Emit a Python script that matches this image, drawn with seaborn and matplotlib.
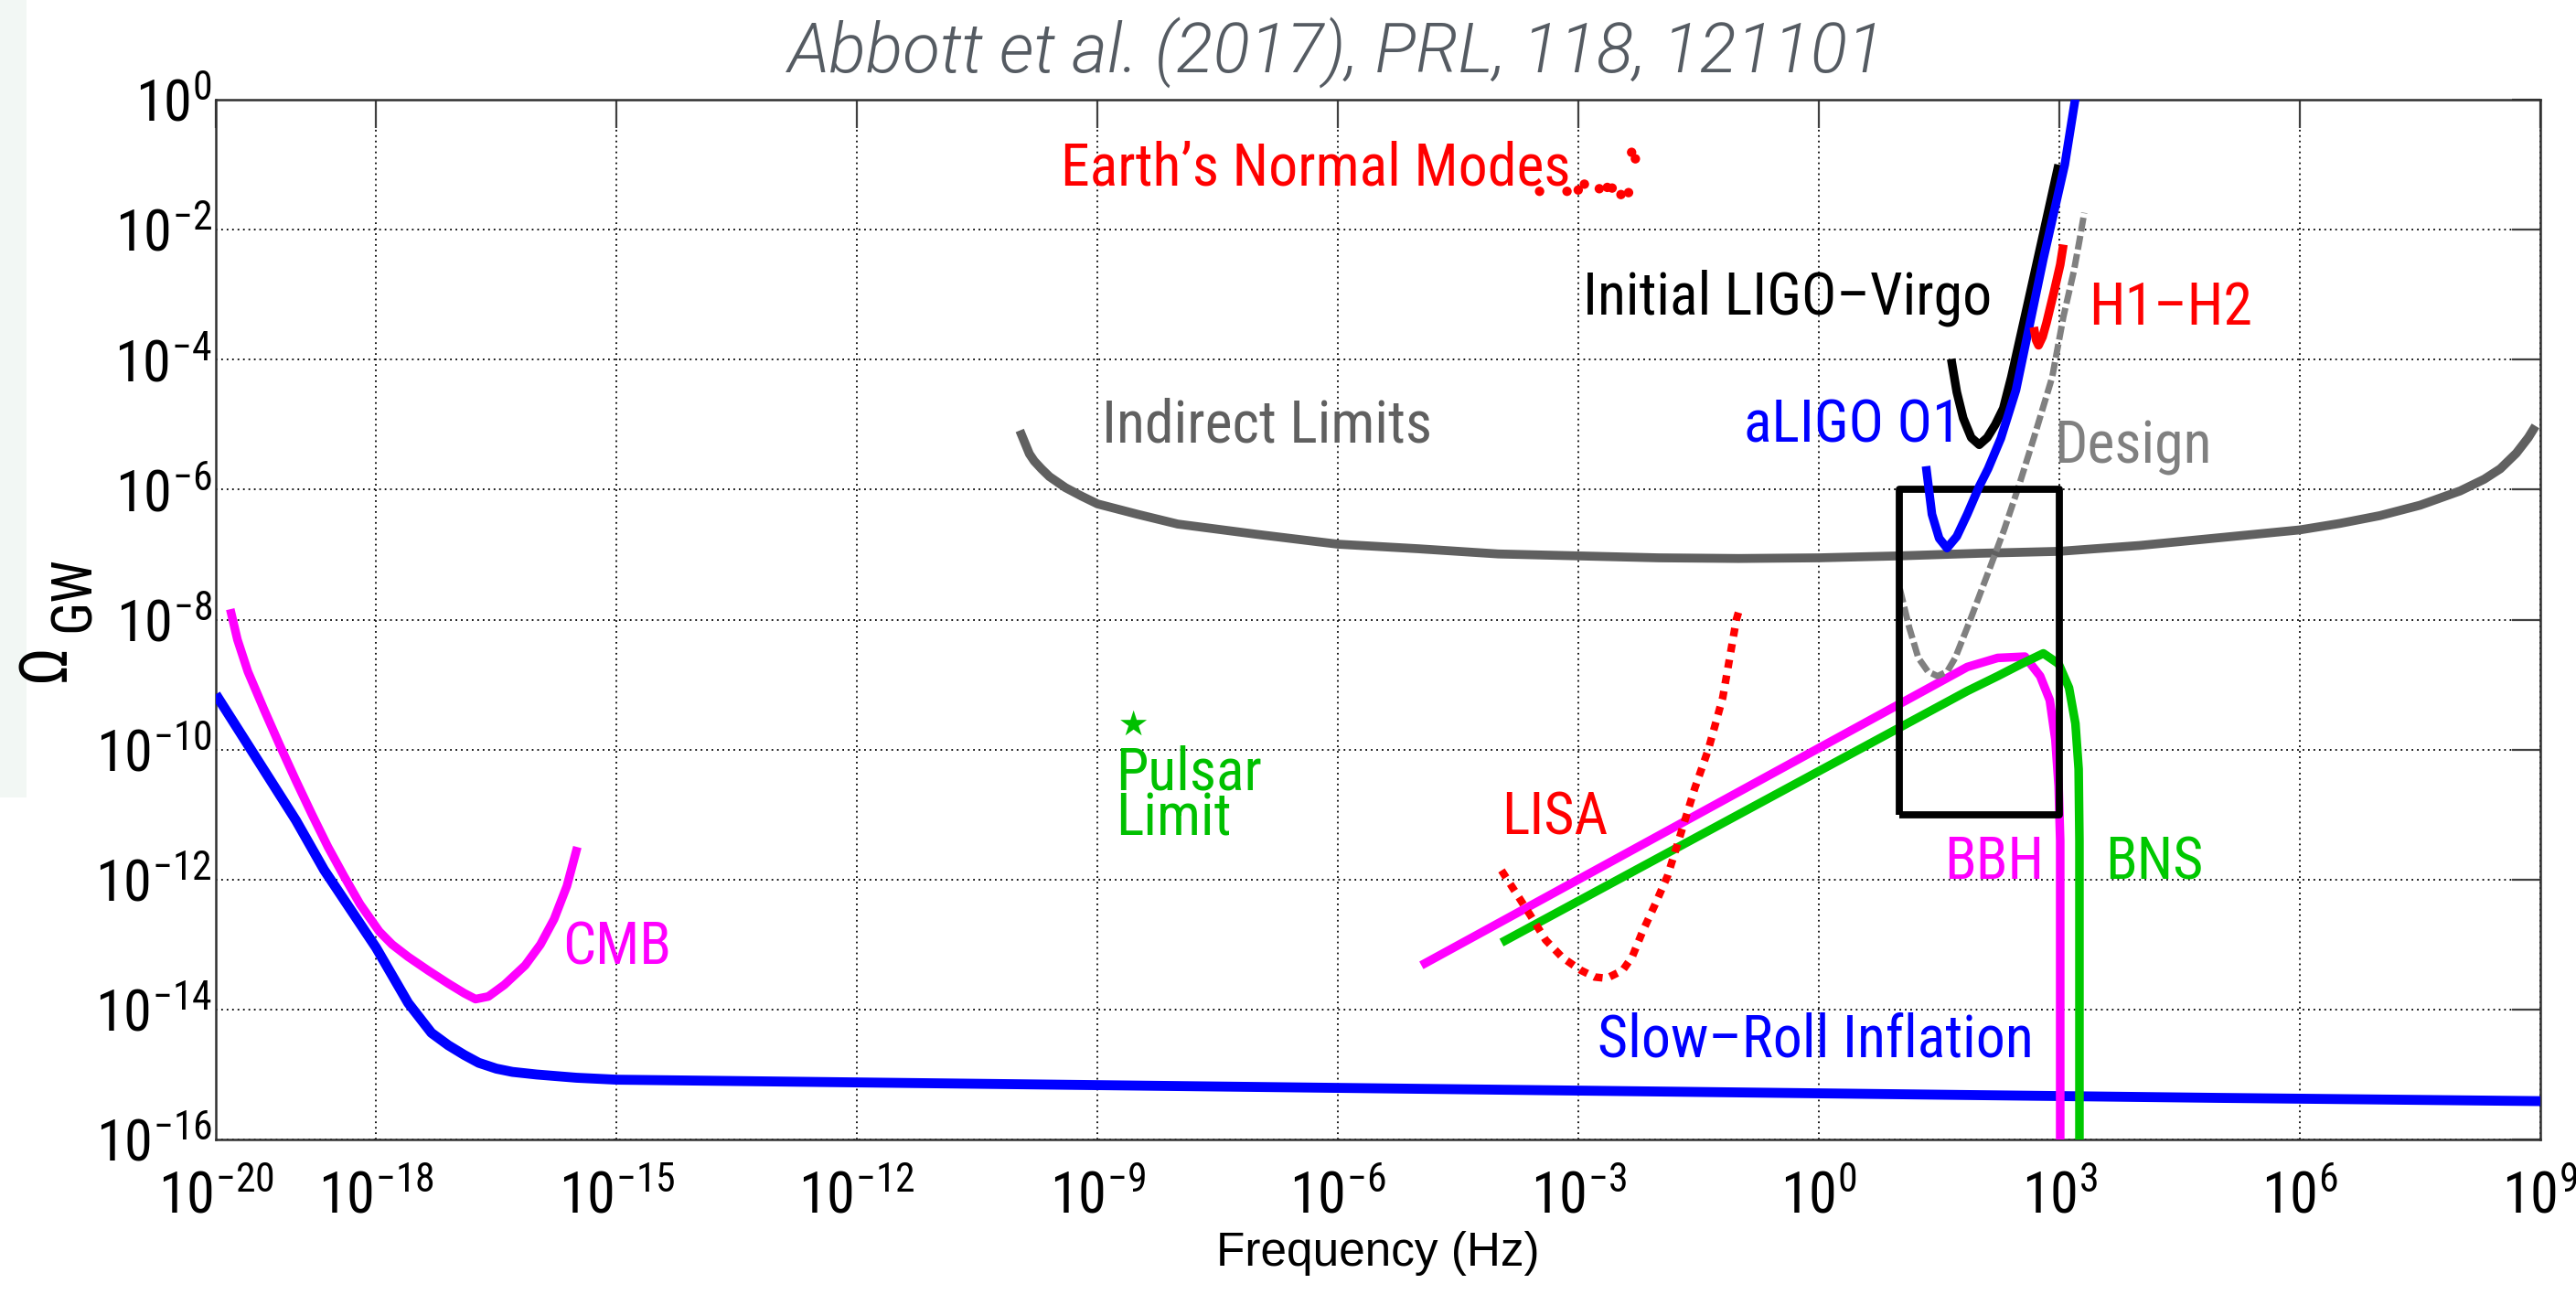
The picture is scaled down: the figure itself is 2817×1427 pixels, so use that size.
import os
import numpy as np
import matplotlib
matplotlib.use("Agg")
import matplotlib.pyplot as plt
from matplotlib import font_manager
from matplotlib.font_manager import FontProperties
from matplotlib.patches import Rectangle
from matplotlib.ticker import FixedLocator, FixedFormatter, NullLocator
import seaborn as sns

# ---------------- data (log10 of frequency [Hz] and of Omega_GW) ----------------
slowroll_logf = [-20, -19, -18.65, -18, -17.6, -17.31, -17.1, -16.9, -16.72, -16.5, -16.3, -16.0, -15.5, -15,
                 -10, -5, 0, 5, 9]
slowroll_logo = [-9.15, -11.09, -11.85, -13.05, -13.9, -14.36, -14.55, -14.7, -14.82, -14.91, -14.96, -15.0,
                 -15.05, -15.08, -15.15, -15.22, -15.29, -15.36, -15.41]

cmb_logf = [-19.82, -19.73, -19.6, -19.4, -19.2, -19.0, -18.8, -18.6, -18.4, -18.2, -17.96, -17.8, -17.6,
            -17.35, -17.1, -16.9, -16.76, -16.6, -16.4, -16.14, -15.95, -15.78, -15.62, -15.49]
cmb_logo = [-7.84, -8.31, -8.8, -9.38, -9.94, -10.48, -11.0, -11.5, -11.95, -12.38, -12.80, -13.0, -13.19,
            -13.4, -13.6, -13.75, -13.84, -13.8, -13.62, -13.32, -13.0, -12.61, -12.1, -11.5]

indirect_logf = [-9.97, -9.9, -9.85, -9.79, -9.7, -9.6, -9.4, -9.2, -9.0, -8.5, -8.0, -7.0, -6.0, -5.0, -4.0,
                 -3.0, -2.0, -1.0, 0.0, 1.0, 2.0, 3.0, 4.0, 4.5, 5.0, 6.0, 6.5, 7.0, 7.5, 8.0, 8.3, 8.5, 8.7,
                 8.85, 8.94]
indirect_logo = [-5.09, -5.3, -5.45, -5.56, -5.68, -5.8, -5.97, -6.1, -6.22, -6.38, -6.53, -6.69, -6.84, -6.91,
                 -6.99, -7.02, -7.05, -7.06, -7.05, -7.02, -6.98, -6.95, -6.86, -6.8, -6.74, -6.62, -6.52,
                 -6.4, -6.24, -6.02, -5.84, -5.68, -5.44, -5.2, -5.02]

earth_logf = [-3.485, -3.143, -3.003, -2.926, -2.74, -2.64, -2.58, -2.47, -2.375, -2.337, -2.29]
earth_logo = [-1.41, -1.41, -1.39, -1.30, -1.37, -1.35, -1.36, -1.46, -1.43, -0.81, -0.91]

initial_logf = [1.65, 1.72, 1.8, 1.9, 2.0, 2.1, 2.2, 2.3, 2.4, 2.6, 2.8, 2.99]
initial_logo = [-3.99, -4.5, -4.9, -5.2, -5.31, -5.2, -5.0, -4.75, -4.27, -3.17, -2.06, -1.0]

aligo_logf = [1.336, 1.41, 1.5, 1.598, 1.72, 1.85, 2.0, 2.11, 2.27, 2.458, 2.8, 3.067, 3.2, 3.23]
aligo_logo = [-5.64, -6.38, -6.75, -6.9, -6.72, -6.38, -5.95, -5.68, -5.21, -4.47, -2.45, -1.0, 0.03, 0.25]

h1h2_logf = [2.68, 2.71, 2.74, 2.79, 2.84, 2.93, 3.01, 3.05]
h1h2_logo = [-3.5, -3.7, -3.78, -3.65, -3.43, -2.97, -2.54, -2.23]

design_logf = [1.01, 1.126, 1.24, 1.36, 1.48, 1.6, 1.70, 1.88, 2.11, 2.31, 2.50, 2.68, 2.91, 3.05, 3.18, 3.25,
               3.31]
design_logo = [-7.53, -8.12, -8.59, -8.8, -8.87, -8.8, -8.59, -8.03, -7.28, -6.62, -5.92, -5.21, -4.27, -3.34,
               -2.64, -2.17, -1.74]

lisa_logf = [-3.96, -3.60, -3.41, -3.2, -2.98, -2.8, -2.65, -2.45, -2.33, -2.2, -2.05, -1.89, -1.7, -1.55,
             -1.38, -1.2, -1.03, -0.98]
lisa_logo = [-11.86, -12.55, -12.93, -13.2, -13.39, -13.5, -13.52, -13.4, -13.19, -12.8, -12.4, -11.95, -11.2,
             -10.6, -10.0, -9.2, -8.0, -7.79]

bbh_logf = [-4.96, 1.85, 2.23, 2.57, 2.76, 2.88, 2.95, 2.99, 3.01, 3.01]
bbh_logo = [-13.32, -8.73, -8.59, -8.57, -8.87, -9.24, -9.85, -10.56, -11.4, -17.0]

bns_logf = [-3.96, 1.85, 2.23, 2.53, 2.80, 2.99, 3.12, 3.2, 3.24, 3.25, 3.25]
bns_logo = [-12.97, -9.10, -8.87, -8.68, -8.52, -8.68, -9.05, -9.6, -10.3, -11.4, -17.0]

box_logf = [1, 3, 3, 1, 1]
box_logo = [-11, -11, -6, -6, -11]

pulsar_logf = [-8.55]
pulsar_logo = [-9.61]

xtick_exp = [-20, -18, -15, -12, -9, -6, -3, 0, 3, 6, 9]
ytick_exp = [-16, -14, -12, -10, -8, -6, -4, -2, 0]

# ---------------- style ----------------
sns.set_theme(style="white")
plt.rcParams["font.family"] = ["Liberation Sans", "DejaVu Sans"]
plt.rcParams["mathtext.default"] = "regular"
plt.rcParams["axes.unicode_minus"] = True

fm = font_manager.fontManager


def wnum(w):
    if isinstance(w, (int, float)):
        return int(w)
    return int(font_manager.weight_dict.get(w, 400))


def find_file(name, style="normal", weight=400, need_cond=None):
    for f in fm.ttflist:
        if f.name != name or f.style != style or wnum(f.weight) != weight:
            continue
        base = os.path.basename(f.fname).lower()
        cond = ("condensed" in base or "narrow" in base or f.stretch != "normal")
        if need_cond is True and not cond:
            continue
        if need_cond is False and cond:
            continue
        if need_cond is True and ("extra" in base or "ultra" in base):
            continue
        return f.fname
    return None


# narrow font for in-plot text and tick labels
narrow_path = None
for nm in ["Roboto Condensed", "Liberation Sans Narrow", "Arial Narrow", "Noto Sans Condensed"]:
    narrow_path = find_file(nm)
    if narrow_path:
        break
if narrow_path is None:
    narrow_path = find_file("Noto Sans", need_cond=True)
HAVE_NARROW = narrow_path is not None
if narrow_path is None:
    narrow_path = find_file("Liberation Sans", need_cond=False) or find_file("DejaVu Sans", need_cond=False)


def NF(size):
    fp = FontProperties(fname=narrow_path) if narrow_path else FontProperties(family="Liberation Sans")
    fp.set_size(size)
    return fp


# light italic font for the citation title
title_path = None
for nm in ["Roboto", "Lato", "Open Sans", "Inter", "Noto Sans"]:
    title_path = find_file(nm, style="italic", weight=300, need_cond=False)
    if title_path:
        break


def TF(size):
    if title_path:
        fp = FontProperties(fname=title_path)
    else:
        fp = FontProperties(family="Liberation Sans", style="italic")
    fp.set_size(size)
    return fp


W, H = 2817, 1427
fig = plt.figure(figsize=(W / 100, H / 100), dpi=100)
fig.patch.set_facecolor("white")
fig.patches.append(Rectangle((0, 1 - 872 / H), 29 / W, 872 / H, transform=fig.transFigure,
                             facecolor="#f2f7f4", edgecolor="none", zorder=0))

L, R, T, B = 236, 2778, 109, 1246
ax = fig.add_axes([L / W, 1 - B / H, (R - L) / W, (B - T) / H])
ax.set_facecolor("white")
ax.set_xscale("log")
ax.set_yscale("log")


def p(v):
    return 10.0 ** np.asarray(v, dtype=float)


def line(lf, lo, color, lw=7.0, ls="-", z=2):
    sns.lineplot(x=p(lf), y=p(lo), ax=ax, color=color, linewidth=lw, linestyle=ls, sort=False,
                 estimator=None, zorder=z, legend=False, solid_capstyle="butt", dash_capstyle="butt")


GRAY_D = "#606060"
GRAY_L = "#808080"
MAG = "#ff00ff"
GRN = "#00c800"
BLU = "#0000ff"
RED = "#ff0000"

line(indirect_logf, indirect_logo, GRAY_D, lw=7.0, z=2)
line(slowroll_logf, slowroll_logo, BLU, lw=7.8, z=3)
line(cmb_logf, cmb_logo, MAG, lw=6.8, z=3)
line(bbh_logf, bbh_logo, MAG, lw=6.8, z=3)
line(bns_logf, bns_logo, GRN, lw=6.8, z=3.1)
line(lisa_logf, lisa_logo, RED, lw=6.0, ls=(0, (1.1, 1.0)), z=3.2)
line(design_logf, design_logo, GRAY_L, lw=5.0, ls=(0, (2.2, 0.7)), z=3.3)
line(box_logf, box_logo, "black", lw=5.6, z=3.4)
line(initial_logf, initial_logo, "black", lw=6.8, z=3.5)
line(aligo_logf, aligo_logo, BLU, lw=6.8, z=3.6)
line(h1h2_logf, h1h2_logo, RED, lw=6.8, z=3.7)
sns.scatterplot(x=p(earth_logf), y=p(earth_logo), ax=ax, color=RED, s=55, edgecolor="none", zorder=4,
                legend=False)
sns.scatterplot(x=p(pulsar_logf), y=p(pulsar_logo), ax=ax, color="#00c000", marker="*", s=480,
                edgecolor="none", zorder=4, legend=False)

# ---------------- axes ----------------
tick_size = 45 if HAVE_NARROW else 42
ax.set_xlim(1e-20, 1e9)
ax.set_ylim(1e-16, 1e0)
ax.xaxis.set_major_locator(FixedLocator(p(xtick_exp)))
ax.xaxis.set_major_formatter(FixedFormatter([r"$10^{%d}$" % e for e in xtick_exp]))
ax.yaxis.set_major_locator(FixedLocator(p(ytick_exp)))
ax.yaxis.set_major_formatter(FixedFormatter([r"$10^{%d}$" % e for e in ytick_exp]))
ax.xaxis.set_minor_locator(NullLocator())
ax.yaxis.set_minor_locator(NullLocator())
ax.tick_params(axis="both", which="major", direction="in", length=22, width=1.6, color="#404040",
               top=True, right=True, labelcolor="black")
ax.tick_params(axis="x", pad=24)
ax.tick_params(axis="y", pad=3)
ax.grid(True, which="major", color="black", linestyle=(0, (1, 2.3)), linewidth=1.3)
for s in ax.spines.values():
    s.set_color("#303030")
    s.set_linewidth(1.8)
    s.set_visible(True)

fig.canvas.draw()
for lbl in ax.get_xticklabels() + ax.get_yticklabels():
    lbl.set_fontproperties(NF(tick_size))

ax.set_xlabel("Frequency (Hz)", fontsize=37, color="black", labelpad=5,
              fontfamily=["Liberation Sans", "DejaVu Sans"])
fig.text(51 / W, 1 - 724 / H, "Ω", rotation=90, ha="center", va="center", color="black",
         fontproperties=NF(52))
fig.text(81 / W, 1 - 650 / H, "GW", rotation=90, ha="center", va="center", color="black",
         fontproperties=NF(44))


# ---------------- annotations ----------------
def lab(lf, lo, s, color, size=46):
    ax.text(10.0 ** lf, 10.0 ** lo, s, color=color, ha="left", va="baseline", zorder=5,
            fontproperties=NF(size))


lab(-9.46, -1.32, "Earth\u2019s Normal Modes", RED)
lab(-2.945, -3.30, "Initial LIGO\u2013Virgo", "black")
lab(-0.94, -5.27, "aLIGO O1", BLU)
lab(2.93, -5.59, "Design", GRAY_L)
lab(3.37, -3.46, "H1\u2013H2", RED)
lab(-8.95, -5.27, "Indirect Limits", GRAY_D)
lab(-15.67, -13.30, "CMB", MAG)
lab(-3.96, -11.30, "LISA", RED)
lab(-2.76, -14.73, "Slow\u2013Roll Inflation", BLU)
lab(1.56, -11.99, "BBH", MAG)
lab(3.57, -11.99, "BNS", GRN)
lab(-8.77, -10.62, "Pulsar", "#00c000")
lab(-8.77, -11.32, "Limit", "#00c000")

fig.text(1462 / W, 1 - 80 / H, "Abbott et al. (2017), PRL, 118, 121101", ha="center", va="baseline",
         color="#555b62", fontproperties=TF(54))

fig.savefig("out.png", dpi=100, facecolor="white")
